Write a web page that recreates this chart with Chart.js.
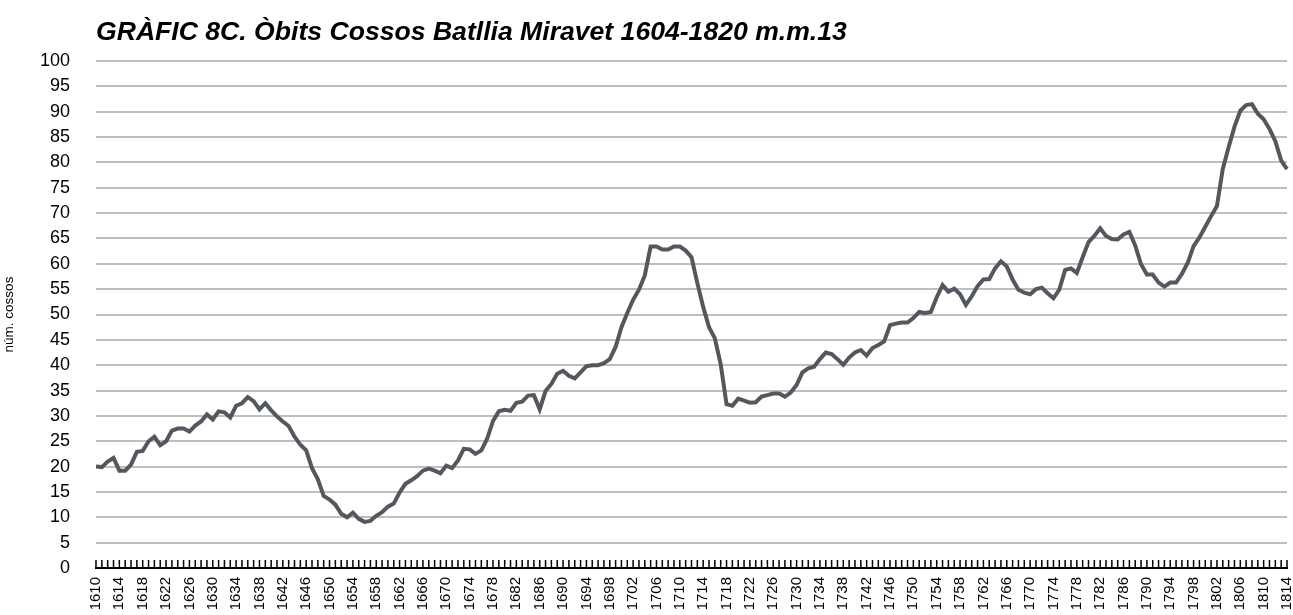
<!DOCTYPE html>
<html lang="ca">
<head>
  <meta charset="UTF-8">
  <title>Òbits Cossos Batllia Miravet</title>
  <script src="https://cdn.jsdelivr.net/npm/chart.js"></script>
  <style>
    html, body { margin: 0; padding: 0; background: #fff; }
    #wrap { width: 1293px; height: 615px; }
  </style>
</head>
<body>
  <div id="wrap"><canvas id="obitsChart" width="1293" height="615"></canvas></div>

  <script>
    const chartTitle = 'GRÀFIC 8C. Òbits Cossos Batllia Miravet 1604-1820 m.m.13';
    const yTitle = 'núm. cossos';
    const firstYear = 1610;

    // media mobil de 13 anys, llegida del grafic (1610-1814)
    const obits1610 = [
      20.0, 19.9, 21.0, 21.7, 19.2, 19.2, 20.4, 22.9, 23.1, 25.0,
      25.9, 24.2, 25.0, 27.1, 27.5, 27.5, 26.9, 28.1, 28.9, 30.3,
      29.3, 30.9, 30.7, 29.7, 32.0, 32.5, 33.7, 32.9, 31.3, 32.5,
      31.1, 29.9, 28.9, 28.0, 25.9, 24.3, 23.2, 19.7, 17.5, 14.2,
      13.5, 12.5, 10.7, 10.0, 10.9, 9.7, 9.1, 9.3, 10.3, 11.0
    ];
    const obits1660 = [
      12.1, 12.7, 14.9, 16.6, 17.3, 18.1, 19.2, 19.6, 19.2, 18.7,
      20.2, 19.7, 21.2, 23.5, 23.4, 22.5, 23.2, 25.5, 29.0, 30.9,
      31.2, 31.0, 32.6, 32.8, 34.0, 34.1, 31.3, 34.9, 36.3, 38.3,
      38.9, 37.9, 37.4, 38.6, 39.8, 40.0, 40.0, 40.4, 41.2, 43.6,
      47.5, 50.3, 52.9, 54.9, 57.7, 63.4, 63.4, 62.8, 62.8, 63.4
    ];
    const obits1710 = [
      63.4, 62.6, 61.3, 56.2, 51.5, 47.5, 45.3, 40.2, 32.3, 32.0,
      33.4, 33.0, 32.6, 32.7, 33.8, 34.1, 34.4, 34.4, 33.8, 34.6,
      36.1, 38.6, 39.4, 39.7, 41.2, 42.5, 42.2, 41.2, 40.1, 41.5,
      42.5, 43.0, 41.9, 43.4, 44.0, 44.7, 47.9, 48.2, 48.4, 48.4,
      49.3, 50.5, 50.3, 50.5, 53.4, 55.8, 54.5, 55.1, 54.0, 51.9
    ];
    const obits1760 = [
      53.6, 55.6, 56.9, 57.0, 59.1, 60.5, 59.5, 56.9, 54.9, 54.3,
      54.0, 55.0, 55.3, 54.2, 53.2, 54.9, 58.8, 59.1, 58.2, 61.3,
      64.3, 65.5, 67.0, 65.5, 64.9, 64.8, 65.8, 66.3, 63.6, 59.9,
      57.9, 57.9, 56.3, 55.5, 56.3, 56.3, 58.0, 60.2, 63.5, 65.2,
      67.3, 69.4, 71.4, 78.7, 83.0, 87.0, 90.2, 91.3, 91.5, 89.6,
      88.5, 86.6, 84.2, 80.4, 78.7
    ];

    const obits = obits1610.concat(obits1660, obits1710, obits1760);
    const years = obits.map((v, i) => String(firstYear + i));

    // marques petites cap amunt a cada any, com l'original
    const innerTicks = {
      id: 'innerTicks',
      afterDatasetsDraw(chart) {
        const x = chart.scales.x;
        const ctx = chart.ctx;
        const bottom = chart.chartArea.bottom;
        ctx.save();
        ctx.strokeStyle = '#000';
        ctx.lineWidth = 1.5;
        ctx.beginPath();
        for (let i = 0; i < years.length; i++) {
          const px = x.getPixelForValue(i);
          ctx.moveTo(px, bottom - 8);
          ctx.lineTo(px, bottom);
        }
        ctx.stroke();
        ctx.restore();
      }
    };

    Chart.defaults.font.family = '"Liberation Sans", Arial, Helvetica, sans-serif';
    Chart.defaults.color = '#000';

    const ctx = document.getElementById('obitsChart').getContext('2d');
    new Chart(ctx, {
      type: 'line',
      data: {
        labels: years,
        datasets: [{
          label: yTitle,
          data: obits,
          borderColor: '#53585e',
          borderWidth: 4,
          pointRadius: 0,
          tension: 0,
          fill: false
        }]
      },
      options: {
        responsive: false,
        animation: false,
        plugins: {
          legend: { display: false },
          tooltip: { enabled: false },
          title: {
            display: true,
            text: chartTitle,
            align: 'start',
            fullSize: false,
            font: { size: 26.6, weight: 'bold', style: 'italic' },
            padding: { top: 17, bottom: 12.1 }
          }
        },
        scales: {
          x: {
            grid: { display: false, drawTicks: false },
            border: { display: true, color: '#000', width: 2 },
            afterFit(scale) {
              scale.height = 47;
              scale.paddingLeft = 0;
              scale.paddingRight = 6;
            },
            ticks: {
              autoSkip: false,
              maxRotation: 90,
              minRotation: 90,
              padding: 9,
              font: { size: 15 },
              callback: function (val, idx) {
                return idx % 4 === 0 ? years[idx] : '';
              }
            }
          },
          y: {
            min: 0,
            max: 100,
            grid: { color: '#bfbfbf', lineWidth: 2, drawTicks: false },
            border: { display: false },
            afterFit(scale) { scale.width = 96; },
            title: {
              display: true,
              text: yTitle,
              font: { size: 13.5 },
              padding: { top: 1, bottom: 0 }
            },
            ticks: {
              stepSize: 5,
              padding: 26,
              font: { size: 18 }
            }
          }
        }
      },
      plugins: [innerTicks]
    });
  </script>
</body>
</html>
